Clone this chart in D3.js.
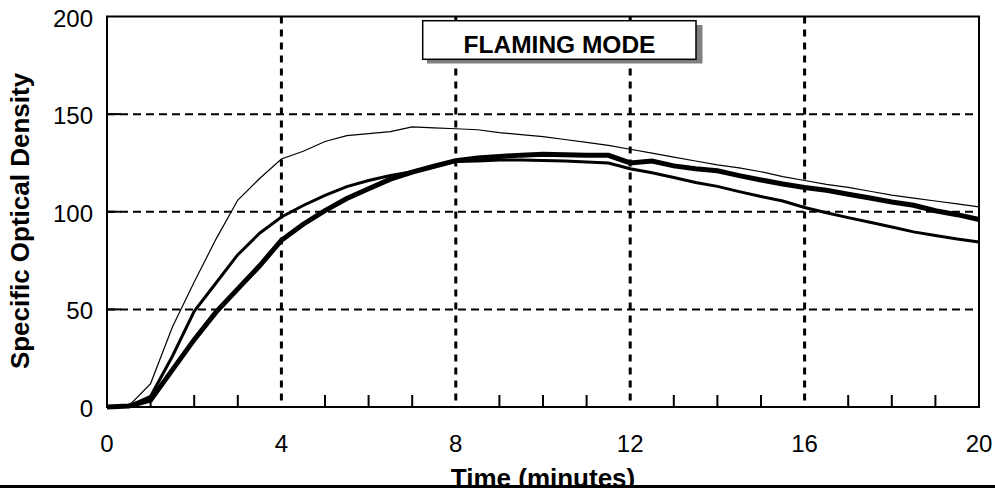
<!DOCTYPE html>
<html>
<head>
<meta charset="utf-8">
<script src="https://cdn.jsdelivr.net/npm/d3@7"></script>
<style>
  html, body { margin: 0; padding: 0; background: #fff; }
  svg { display: block; }
  text { font-family: Arial, "Liberation Sans", Helvetica, sans-serif; fill: #000; }
</style>
</head>
<body>
<svg id="chart" width="995" height="488"></svg>
<script>
// ---- data ----
const minutes = [0,0.5,1,1.5,2,2.5,3,3.5,4,4.5,5,5.5,6,6.5,7,7.5,8,8.5,9,9.5,10,10.5,11,11.5,12,12.5,13,13.5,14,14.5,15,15.5,16,16.5,17,17.5,18,18.5,19,19.5,20];
const seriesThin   = [0,0.5,12,41,64,86,106,117,127,131,136,139,140,141,143.5,143,142.5,142,140.5,139.5,138.5,137,135.5,134,132,130,128,126,124,122.5,120.5,118,116,114,112.5,110.5,108.5,107,105.5,104,102.5];
const seriesMedium = [0,0.5,5.5,26,49,63.5,78,89,97.3,103.2,108.4,112.9,116,118.6,120.5,123,125.8,126,126.5,126.5,126.3,126,125.5,125,122,120,117.5,115,113,110.3,107.8,105.5,102.2,99.5,97,94.6,92.2,89.7,87.8,86,84.5];
const seriesThick  = [0,0.5,3.5,19,34.5,48.6,60.5,72.3,85.4,93.6,100.6,106.8,111.8,116.7,120.3,123.3,126.2,127.5,128.3,129,129.4,129.2,129,128.9,125,126,123.5,122,121,118.5,116.3,114.2,112.4,111,109,107,105,103.3,100.5,98.5,96];
const xTickLabels = [0,4,8,12,16,20];
const yTickLabels = [0,50,100,150,200];
const minorXTicks = [1,2,3,5,6,7,9,10,11,13,14,15,17,18,19];
const innerYTicks = [50,100,150];
const titleText = "FLAMING MODE";
const xTitle = "Time (minutes)";
const yTitle = "Specific Optical Density";

(function () {
// ---- layout ----
const svg = d3.select("#chart");
const pL = 107, pR = 979, pT = 16.5, pB = 407;
const x = d3.scaleLinear().domain([0, 20]).range([pL, pR]);
const y = d3.scaleLinear().domain([0, 200]).range([pB, pT]);

// gridlines
svg.append("g").selectAll("line").data(innerYTicks).join("line")
  .attr("x1", pL).attr("x2", pR)
  .attr("y1", d => y(d)).attr("y2", d => y(d))
  .attr("stroke", "#000").attr("stroke-width", 2).attr("stroke-dasharray", "8,5");
svg.append("g").selectAll("line").data([4,8,12,16]).join("line")
  .attr("x1", d => x(d)).attr("x2", d => x(d))
  .attr("y1", pT).attr("y2", pB)
  .attr("stroke", "#000").attr("stroke-width", 3).attr("stroke-dasharray", "7,6");

// series
const mk = vals => minutes.map((t, i) => [t, vals[i]]);
const line = d3.line().x(d => x(d[0])).y(d => y(d[1])).curve(d3.curveLinear);
const series = [
  { vals: seriesThick, w: 5 },
  { vals: seriesMedium, w: 3 },
  { vals: seriesThin, w: 1.2 }
];
svg.append("g").selectAll("path").data(series).join("path")
  .attr("d", d => line(mk(d.vals)))
  .attr("fill", "none").attr("stroke", "#000")
  .attr("stroke-width", d => d.w).attr("stroke-linejoin", "miter");

// title box with shadow
svg.append("rect").attr("x", 427).attr("y", 25).attr("width", 275.5).attr("height", 38.5).attr("fill", "#808080");
svg.append("rect").attr("x", 422.7).attr("y", 20.7).attr("width", 273.3).attr("height", 38.6)
  .attr("fill", "#fff").attr("stroke", "#000").attr("stroke-width", 1.5);
svg.append("text").attr("x", 559.5).attr("y", 52.5).attr("text-anchor", "middle")
  .attr("font-size", 24.5).attr("font-weight", "bold").text(titleText);

// plot frame
svg.append("rect").attr("x", pL).attr("y", pT).attr("width", pR - pL).attr("height", pB - pT)
  .attr("fill", "none").attr("stroke", "#000").attr("stroke-width", 2);

// minor ticks
svg.append("g").selectAll("line").data(minorXTicks).join("line")
  .attr("x1", d => x(d)).attr("x2", d => x(d)).attr("y1", pB).attr("y2", pB - 12)
  .attr("stroke", "#000").attr("stroke-width", 2);
svg.append("g").selectAll("line").data(innerYTicks).join("line")
  .attr("x1", pL).attr("x2", pL + 14).attr("y1", d => y(d)).attr("y2", d => y(d))
  .attr("stroke", "#000").attr("stroke-width", 2);

// tick labels
svg.append("g").selectAll("text").data(xTickLabels).join("text")
  .attr("x", d => x(d)).attr("y", 452).attr("text-anchor", "middle")
  .attr("font-size", 24).text(d => d);
svg.append("g").selectAll("text").data(yTickLabels).join("text")
  .attr("x", 93).attr("y", d => y(d) + 10).attr("text-anchor", "end")
  .attr("font-size", 24).text(d => d);

// axis titles
svg.append("text").attr("x", 543).attr("y", 487).attr("text-anchor", "middle")
  .attr("font-size", 26).attr("font-weight", "bold").text(xTitle);
svg.append("text").attr("transform", "translate(29,221) rotate(-90)").attr("text-anchor", "middle")
  .attr("font-size", 26).attr("font-weight", "bold").text(yTitle);

// bottom rule of the figure
svg.append("rect").attr("x", 0).attr("y", 485).attr("width", 995).attr("height", 3).attr("fill", "#000");
})();
</script>
</body>
</html>
